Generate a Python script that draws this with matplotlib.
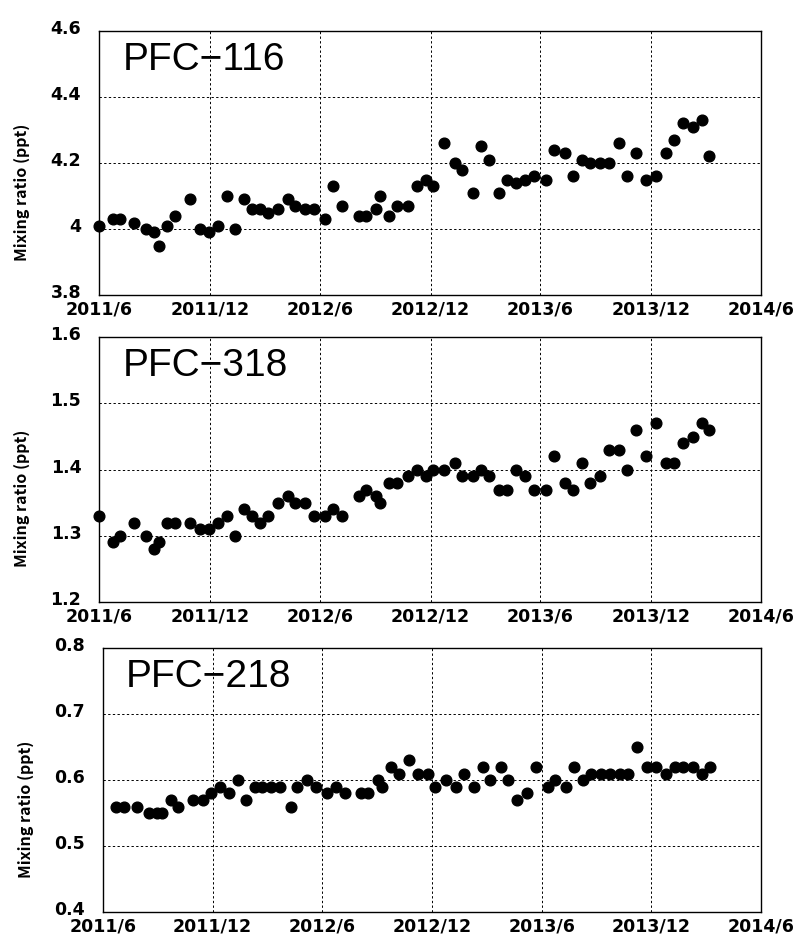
import datetime as dt

import matplotlib

matplotlib.use("Agg")
import matplotlib.pyplot as plt
import matplotlib.transforms as mtransforms
import numpy as np

# sampling dates (roughly twice a month)
dates = [
    "2011-06-01", "2011-06-23", "2011-07-06", "2011-07-28", "2011-08-17", "2011-08-31",
    "2011-09-08", "2011-09-22", "2011-10-05", "2011-10-29", "2011-11-15", "2011-11-29",
    "2011-12-14", "2011-12-29", "2012-01-12", "2012-01-26", "2012-02-09", "2012-02-22",
    "2012-03-07", "2012-03-23", "2012-04-09", "2012-04-20", "2012-05-07", "2012-05-22",
    "2012-06-09", "2012-06-23", "2012-07-08", "2012-08-04", "2012-08-16", "2012-09-01",
    "2012-09-08", "2012-09-23", "2012-10-07", "2012-10-24", "2012-11-08", "2012-11-24",
    "2012-12-05", "2012-12-23", "2013-01-10", "2013-01-22", "2013-02-09", "2013-02-23",
    "2013-03-07", "2013-03-25", "2013-04-06", "2013-04-21", "2013-05-07", "2013-05-22",
    "2013-06-11", "2013-06-24", "2013-07-11", "2013-07-25", "2013-08-09", "2013-08-22",
    "2013-09-08", "2013-09-23", "2013-10-09", "2013-10-23", "2013-11-07", "2013-11-23",
    "2013-12-09", "2013-12-26", "2014-01-09", "2014-01-23", "2014-02-08", "2014-02-24",
    "2014-03-08",
]

pfc116 = [
    4.01, 4.03, 4.03, 4.02, 4.00, 3.99, 3.95, 4.01, 4.04, 4.09, 4.00, 3.99,
    4.01, 4.10, 4.00, 4.09, 4.06, 4.06, 4.05, 4.06, 4.09, 4.07, 4.06, 4.06,
    4.03, 4.13, 4.07, 4.04, 4.04, 4.06, 4.10, 4.04, 4.07, 4.07, 4.13, 4.15,
    4.13, 4.26, 4.20, 4.18, 4.11, 4.25, 4.21, 4.11, 4.15, 4.14, 4.15, 4.16,
    4.15, 4.24, 4.23, 4.16, 4.21, 4.20, 4.20, 4.20, 4.26, 4.16, 4.23, 4.15,
    4.16, 4.23, 4.27, 4.32, 4.31, 4.33, 4.22,
]

pfc318 = [
    1.33, 1.29, 1.30, 1.32, 1.30, 1.28, 1.29, 1.32, 1.32, 1.32, 1.31, 1.31,
    1.32, 1.33, 1.30, 1.34, 1.33, 1.32, 1.33, 1.35, 1.36, 1.35, 1.35, 1.33,
    1.33, 1.34, 1.33, 1.36, 1.37, 1.36, 1.35, 1.38, 1.38, 1.39, 1.40, 1.39,
    1.40, 1.40, 1.41, 1.39, 1.39, 1.40, 1.39, 1.37, 1.37, 1.40, 1.39, 1.37,
    1.37, 1.42, 1.38, 1.37, 1.41, 1.38, 1.39, 1.43, 1.43, 1.40, 1.46, 1.42,
    1.47, 1.41, 1.41, 1.44, 1.45, 1.47, 1.46,
]

# no PFC-218 value on the first sampling date
pfc218 = [
    np.nan, 0.56, 0.56, 0.56, 0.55, 0.55, 0.55, 0.57, 0.56, 0.57, 0.57, 0.58,
    0.59, 0.58, 0.60, 0.57, 0.59, 0.59, 0.59, 0.59, 0.56, 0.59, 0.60, 0.59,
    0.58, 0.59, 0.58, 0.58, 0.58, 0.60, 0.59, 0.62, 0.61, 0.63, 0.61, 0.61,
    0.59, 0.60, 0.59, 0.61, 0.59, 0.62, 0.60, 0.62, 0.60, 0.57, 0.58, 0.62,
    0.59, 0.60, 0.59, 0.62, 0.60, 0.61, 0.61, 0.61, 0.61, 0.61, 0.65, 0.62,
    0.62, 0.61, 0.62, 0.62, 0.62, 0.61, 0.62,
]

names = ["PFC\u2212116", "PFC\u2212318", "PFC\u2212218"]
series = [pfc116, pfc318, pfc218]
ylims = [(3.8, 4.6), (1.2, 1.6), (0.4, 0.8)]
ysteps = [0.2, 0.1, 0.1]

xticks = ["2011-06-01", "2011-12-01", "2012-06-01", "2012-12-01",
          "2013-06-01", "2013-12-01", "2014-06-01"]

# axes boxes in figure pixels: left, top, right, bottom
W, H = 797, 941
boxes = [
    (99.3, 30.7, 760.7, 295.3),
    (99.3, 337.3, 760.7, 602.0),
    (102.7, 648.3, 760.7, 912.0),
]

LABEL_FONT = ["Noto Sans CJK JP", "DejaVu Sans"]

x = [dt.datetime.strptime(d, "%Y-%m-%d") for d in dates]
xt = [dt.datetime.strptime(d, "%Y-%m-%d") for d in xticks]

fig = plt.figure(figsize=(W / 100, H / 100), dpi=100)
fig.patch.set_facecolor("white")

for name, vals, (y0, y1), step, (l, t, r, b) in zip(names, series, ylims, ysteps, boxes):
    ax = fig.add_axes([l / W, 1 - b / H, (r - l) / W, (b - t) / H])
    ax.plot(x, vals, "o", color="black", markersize=7.7, clip_on=False, zorder=3)

    ax.set_xlim(xt[0], xt[-1])
    ax.set_ylim(y0, y1)
    ax.set_xticks(xt)
    ax.set_xticklabels([f"{d.year}/{d.month}" for d in xt])
    yt = np.round(np.arange(y0, y1 + step / 2, step), 2)
    ax.set_yticks(yt)
    ax.set_yticklabels([f"{v:g}" for v in yt])

    ax.grid(True, color="black", linestyle=(0, (2.4, 2.4)), linewidth=0.7)
    ax.tick_params(length=0, pad=4)
    ax.tick_params(axis="y", pad=13)
    for sp in ax.spines.values():
        sp.set_linewidth(1.0)
        sp.set_color("black")

    for lab in ax.get_xticklabels() + ax.get_yticklabels():
        lab.set_family("DejaVu Sans")
        lab.set_fontweight("bold")
        lab.set_fontsize(12.5)
    # y tick labels sit a little above their grid lines
    shift = mtransforms.ScaledTranslation(0, 4 / 100, fig.dpi_scale_trans)
    for lab in ax.get_yticklabels():
        lab.set_transform(lab.get_transform() + shift)

    ax.set_ylabel("Mixing ratio (ppt)", family=LABEL_FONT, fontweight="bold",
                  fontsize=11.5)
    ax.yaxis.set_label_coords(-0.105, 0.39)

    ax.text(0.035, 0.89, name, transform=ax.transAxes, family="Liberation Sans",
            fontsize=28, va="center", ha="left")

fig.savefig("out.png", dpi=100, facecolor="white")
